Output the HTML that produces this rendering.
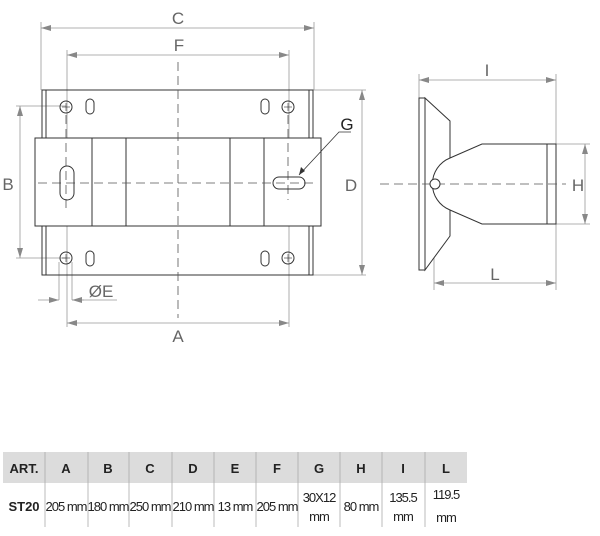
<!DOCTYPE html>
<html><head><meta charset="utf-8"><style>
html,body{margin:0;padding:0;background:#fff;}
svg{display:block}
text{font-family:"Liberation Sans",sans-serif;}
</style></head><body>
<svg width="600" height="536" viewBox="0 0 600 536" xmlns="http://www.w3.org/2000/svg">
<defs>
<marker id="a" markerWidth="10" markerHeight="6" refX="10" refY="3" orient="auto-start-reverse" markerUnits="userSpaceOnUse"><path d="M0,0 L10,3 L0,6 z" fill="#888"/></marker>
</defs>
<g stroke="#999" stroke-width="0.8" fill="none">
<line x1="41" y1="22" x2="41" y2="90"/><line x1="314" y1="22" x2="314" y2="90"/>
<line x1="67" y1="50" x2="67" y2="327"/><line x1="289" y1="50" x2="289" y2="327"/>
<line x1="16" y1="106" x2="66" y2="106"/><line x1="16" y1="258" x2="66" y2="258"/>
<line x1="313" y1="90" x2="366" y2="90"/><line x1="313" y1="275" x2="366" y2="275"/>
<line x1="59" y1="262" x2="59" y2="300"/><line x1="72" y1="262" x2="72" y2="300"/>
<line x1="41" y1="28" x2="314" y2="28" marker-start="url(#a)" marker-end="url(#a)"/>
<line x1="67" y1="55" x2="289" y2="55" marker-start="url(#a)" marker-end="url(#a)"/>
<line x1="20" y1="106" x2="20" y2="258" marker-start="url(#a)" marker-end="url(#a)"/>
<line x1="362" y1="90" x2="362" y2="275" marker-start="url(#a)" marker-end="url(#a)"/>
<line x1="67" y1="323" x2="289" y2="323" marker-start="url(#a)" marker-end="url(#a)"/>
<line x1="38" y1="300" x2="59" y2="300" marker-end="url(#a)"/>
<line x1="72" y1="300" x2="117" y2="300"/>
<line x1="84" y1="300" x2="72" y2="300" marker-end="url(#a)"/>
<line x1="419" y1="74" x2="419" y2="98"/><line x1="556" y1="74" x2="556" y2="290"/>
<line x1="419" y1="80" x2="556" y2="80" marker-start="url(#a)" marker-end="url(#a)"/>
<line x1="556" y1="144" x2="590" y2="144"/><line x1="556" y1="224" x2="590" y2="224"/>
<line x1="585" y1="144" x2="585" y2="224" marker-start="url(#a)" marker-end="url(#a)"/>
<line x1="434" y1="190" x2="434" y2="290"/>
<line x1="434" y1="283" x2="556" y2="283" marker-start="url(#a)" marker-end="url(#a)"/>
</g>
<g stroke="#333" stroke-width="1" fill="none">
<rect x="42" y="90" width="271" height="185"/>
<line x1="46" y1="90" x2="46" y2="275"/><line x1="309" y1="90" x2="309" y2="275"/>
<rect x="35" y="138" width="286" height="88" fill="#fff"/>
<line x1="92" y1="138" x2="92" y2="226"/><line x1="126" y1="138" x2="126" y2="226"/>
<line x1="230" y1="138" x2="230" y2="226"/><line x1="264" y1="138" x2="264" y2="226"/>
<circle cx="66" cy="107" r="6"/><circle cx="288" cy="107" r="6"/>
<circle cx="66" cy="258" r="6"/><circle cx="288" cy="258" r="6"/>
<rect x="86" y="99" width="8" height="15" rx="4"/><rect x="261" y="99" width="8" height="15" rx="4"/>
<rect x="86" y="251" width="8" height="15" rx="4"/><rect x="261" y="251" width="8" height="15" rx="4"/>
</g>
<g stroke="#333" stroke-width="1" fill="#fff">
<path d="M425,98 L450,121 L450,236 L425,270 Z"/>
<rect x="419" y="98" width="6" height="172"/>
<path d="M450,158 L482,144 L556,144 L556,224 L482,224 L450,210 A28,28 0 0 1 450,158 Z"/>
<line x1="547" y1="144" x2="547" y2="224"/>
</g>
<g stroke="#555" stroke-width="0.8" stroke-dasharray="9,5" fill="none">
<line x1="178" y1="62" x2="178" y2="318"/>
<line x1="38" y1="183" x2="318" y2="183"/>
<line x1="380" y1="184" x2="566" y2="184"/>
<line x1="66" y1="115" x2="66" y2="208"/>
<line x1="288" y1="115" x2="288" y2="200"/>
</g>
<g stroke="#333" stroke-width="1" fill="none">
<rect x="60" y="166" width="14" height="34" rx="7"/>
<rect x="273" y="177" width="32" height="12" rx="6"/>
<circle cx="435" cy="184" r="5" fill="#fff"/>
</g>
<g stroke="#333" stroke-width="0.6">
<line x1="62" y1="107" x2="70" y2="107"/><line x1="66" y1="103" x2="66" y2="111"/>
<line x1="284" y1="107" x2="292" y2="107"/><line x1="288" y1="103" x2="288" y2="111"/>
<line x1="62" y1="258" x2="70" y2="258"/><line x1="66" y1="254" x2="66" y2="262"/>
<line x1="284" y1="258" x2="292" y2="258"/><line x1="288" y1="254" x2="288" y2="262"/>
</g>
<polyline points="351,132 339,132 299,175" fill="none" stroke="#333" stroke-width="0.8"/>
<path d="M299,175 l2,-8 l4,4 z" fill="#333"/>
<g fill="#666" font-size="17">
<text x="178" y="24" text-anchor="middle">C</text>
<text x="179" y="51" text-anchor="middle">F</text>
<text x="8" y="190" text-anchor="middle">B</text>
<text x="351" y="191" text-anchor="middle">D</text>
<text x="178" y="342" text-anchor="middle">A</text>
<text x="101" y="297" text-anchor="middle">ØE</text>
<text x="487" y="76" text-anchor="middle">I</text>
<text x="578" y="191" text-anchor="middle">H</text>
<text x="495" y="280" text-anchor="middle">L</text>
</g>
<text x="347" y="130" text-anchor="middle" font-size="17" fill="#222">G</text>
<rect x="3" y="452" width="464" height="31" fill="#dcdcdc"/>
<g stroke="#aaa" stroke-width="0.8">
<line x1="45" y1="452" x2="45" y2="527"/><line x1="88" y1="452" x2="88" y2="527"/>
<line x1="129" y1="452" x2="129" y2="527"/><line x1="172" y1="452" x2="172" y2="527"/>
<line x1="214" y1="452" x2="214" y2="527"/><line x1="256" y1="452" x2="256" y2="527"/>
<line x1="298" y1="452" x2="298" y2="527"/><line x1="340" y1="452" x2="340" y2="527"/>
<line x1="382" y1="452" x2="382" y2="527"/><line x1="425" y1="452" x2="425" y2="527"/>
</g>
<g font-size="13" font-weight="bold" fill="#222" text-anchor="middle">
<text x="24" y="473">ART.</text><text x="66" y="473">A</text><text x="108" y="473">B</text>
<text x="150" y="473">C</text><text x="193" y="473">D</text><text x="235" y="473">E</text>
<text x="277" y="473">F</text><text x="319" y="473">G</text><text x="361" y="473">H</text>
<text x="403" y="473">I</text><text x="446" y="473">L</text>
<text x="24" y="511">ST20</text>
</g>
<g font-size="13" fill="#222" text-anchor="middle" letter-spacing="-1">
<text x="66" y="511">205 mm</text><text x="108" y="511">180 mm</text>
<text x="150" y="511">250 mm</text><text x="193" y="511">210 mm</text>
<text x="235" y="511">13 mm</text><text x="277" y="511">205 mm</text>
<text x="319" y="502">30X12</text><text x="319" y="521">mm</text>
<text x="361" y="511">80 mm</text>
<text x="403" y="502">135.5</text><text x="403" y="521">mm</text>
<text x="446" y="499">119.5</text><text x="446" y="522">mm</text>
</g>
</svg>
</body></html>
